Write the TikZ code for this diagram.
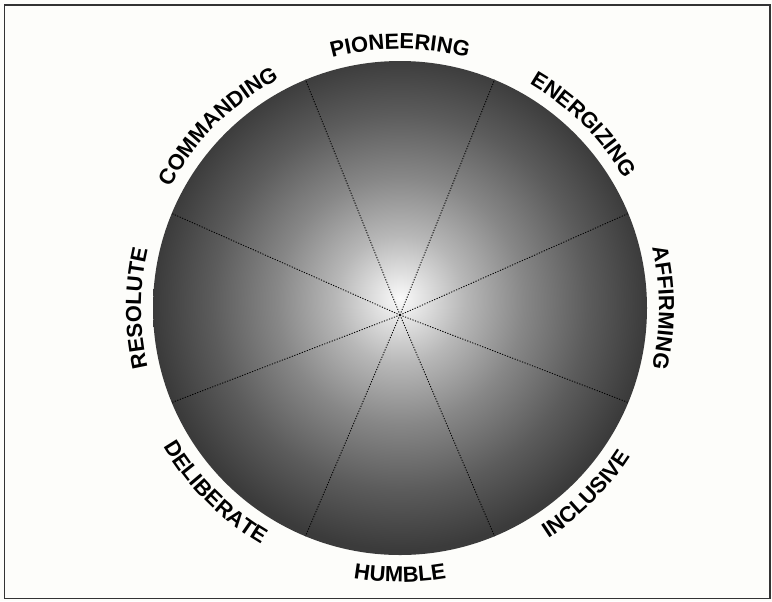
\documentclass[tikz,border=0pt]{standalone}
\usepackage{fontspec}
\setmainfont{Liberation Sans}
\usetikzlibrary{calc,decorations.text}

\definecolor{paper}{rgb}{0.992,0.992,0.982}
\definecolor{frameline}{gray}{0.2}
\definecolor{shA}{gray}{0.98}
\definecolor{shB}{gray}{0.88}
\definecolor{shC}{gray}{0.72}
\definecolor{shD}{gray}{0.53}
\definecolor{shE}{gray}{0.36}
\definecolor{shF}{gray}{0.23}
\pgfdeclareradialshading{discshade}{\pgfpoint{0bp}{1bp}}{color(0bp)=(shA); color(2.5bp)=(shB); color(6.5bp)=(shC); color(12.5bp)=(shD); color(19bp)=(shE); color(25bp)=(shF); color(50bp)=(shF)}

\newcommand{\ringfont}{\fontsize{16.4}{16.4}\selectfont\bfseries}

\tikzset{every picture/.style={line width=0.75pt}}
\tikzset{
  spoke/.style={black, line width=0.65pt, dash pattern=on 0.9pt off 1.1pt},
  ringtop/.style={decorate, decoration={text along path, text align=center, text={|\ringfont|#1}}},
}

\begin{document}
\begin{tikzpicture}[x=0.75pt,y=0.75pt,yscale=-1,xscale=1]
\useasboundingbox (0,0) rectangle (772,601);

%Shape: Rectangle [id:paper]
\fill [paper] (0,0) rectangle (772,601);
\draw [frameline, line width=1.4] (4.5,5) rectangle (770,598.5);

\coordinate (ctr) at (400,308);
\coordinate (hub) at (400,315);

%Shape: Circle [id:disc]
\shade [shading=discshade] (ctr) circle [radius=247];

%Straight Lines [id:rim points]
\coordinate (r1) at ($(ctr)+(-22.5:247)$);
\coordinate (r2) at ($(ctr)+(-67.5:247)$);
\coordinate (r3) at ($(ctr)+(-112.5:247)$);
\coordinate (r4) at ($(ctr)+(-157.5:247)$);
\coordinate (r5) at ($(ctr)+(157.5:247)$);
\coordinate (r6) at ($(ctr)+(112.5:247)$);
\coordinate (r7) at ($(ctr)+(67.5:247)$);
\coordinate (r8) at ($(ctr)+(22.5:247)$);
\draw [spoke] (hub) -- (r1) ;
\draw [spoke] (hub) -- (r2) ;
\draw [spoke] (hub) -- (r3) ;
\draw [spoke] (hub) -- (r4) ;
\draw [spoke] (hub) -- (r5) ;
\draw [spoke] (hub) -- (r6) ;
\draw [spoke] (hub) -- (r7) ;
\draw [spoke] (hub) -- (r8) ;

%Text on arc [id:upper labels]
\path [ringtop=PIONEERING] ($(ctr)+(-140:259)$) arc [start angle=-140, end angle=-40, radius=259] ;
\path [ringtop=ENERGIZING] ($(ctr)+(-95:259)$) arc [start angle=-95, end angle=5, radius=259] ;
\path [ringtop=AFFIRMING] ($(ctr)+(-50:259)$) arc [start angle=-50, end angle=50, radius=259] ;
\path [ringtop=COMMANDING] ($(ctr)+(-185:259)$) arc [start angle=-185, end angle=-85, radius=259] ;
\path [ringtop=RESOLUTE] ($(ctr)+(-230:259)$) arc [start angle=-230, end angle=-130, radius=259] ;

%Text on arc [id:lower labels]
\path [ringtop=INCLUSIVE] ($(ctr)+(95:274)$) arc [start angle=95, end angle=-5, radius=274] ;
\path [ringtop=HUMBLE] ($(ctr)+(140:274)$) arc [start angle=140, end angle=40, radius=274] ;
\path [ringtop=DELIBERATE] ($(ctr)+(185:274)$) arc [start angle=185, end angle=85, radius=274] ;

\end{tikzpicture}
\end{document}
